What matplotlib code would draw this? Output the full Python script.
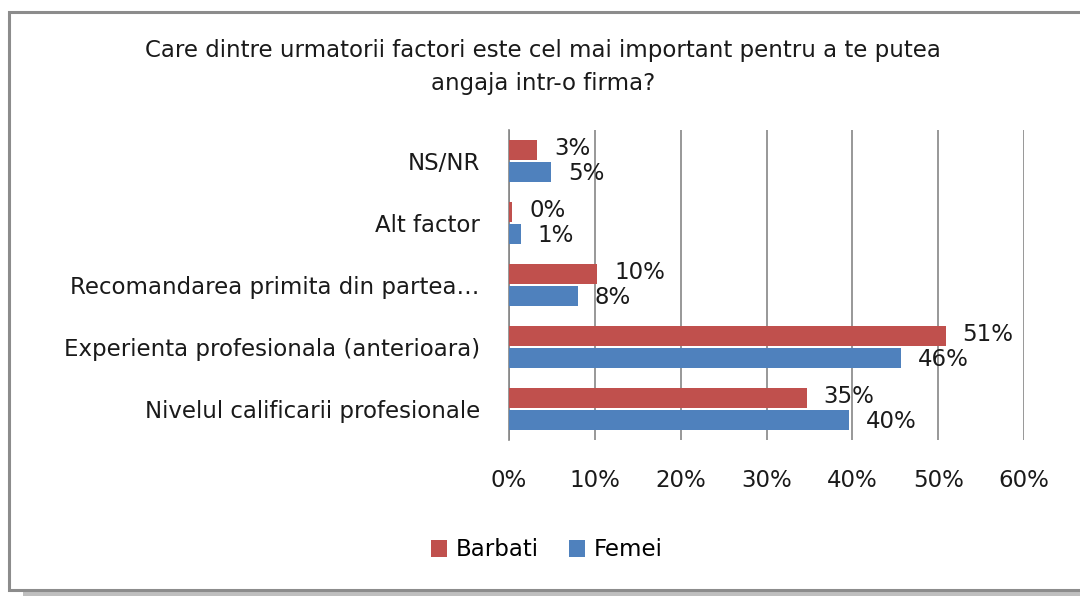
import matplotlib
matplotlib.use("Agg")
import matplotlib.pyplot as plt
from matplotlib.patches import Rectangle
import numpy as np

categories = ["Nivelul calificarii profesionale",
              "Experienta profesionala (anterioara)",
              "Recomandarea primita din partea\u2026",
              "Alt factor",
              "NS/NR"]
barbati = [34.7, 50.9, 10.3, 0.4, 3.3]
femei = [39.6, 45.7, 8.0, 1.4, 4.9]
barbati_labels = ["35%", "51%", "10%", "0%", "3%"]
femei_labels = ["40%", "46%", "8%", "1%", "5%"]
xticks = [0, 10, 20, 30, 40, 50, 60]

RED = "#C0504D"
BLUE = "#4F81BD"
GRID = "#868686"
FS = 16.5

plt.rcParams["font.family"] = ["DejaVu Sans"]

W, H = 1080, 596
fig = plt.figure(figsize=(W / 100, H / 100), dpi=100)

# chart frame + shadow
fig.add_artist(Rectangle((23 / W, 0), 1, 5 / H, transform=fig.transFigure,
                         facecolor="#BFBFBF", edgecolor="none", zorder=0))
fig.add_artist(Rectangle((9 / W, 1 - 590 / H), 1.05 - 9 / W, 578 / H,
                         transform=fig.transFigure, facecolor="white",
                         edgecolor="#8C8C8C", linewidth=2.2, zorder=1))

ax = fig.add_axes([509 / W, 1 - 440 / H, (1024 - 509) / W, 310 / H])
ax.set_zorder(2)
ax.patch.set_visible(False)

y = np.arange(len(categories))
h = 0.32
off = 0.175
ax.barh(y + off, barbati, height=h, color=RED, label="Barbati", zorder=3)
ax.barh(y - off, femei, height=h, color=BLUE, label="Femei", zorder=3)

for yi, v, t in zip(y, barbati, barbati_labels):
    ax.annotate(t, (v, yi + off), xytext=(12, 1), textcoords="offset points",
                ha="left", va="center", fontsize=FS, color="#1a1a1a")
for yi, v, t in zip(y, femei, femei_labels):
    ax.annotate(t, (v, yi - off), xytext=(12, -1), textcoords="offset points",
                ha="left", va="center", fontsize=FS, color="#1a1a1a")

ax.set_xlim(0, 60)
ax.set_ylim(-0.5, len(categories) - 0.5)
ax.set_xticks(xticks)
ax.set_xticklabels([f"{t}%" for t in xticks], fontsize=FS, color="#1a1a1a")
ax.set_yticks(y)
ax.set_yticklabels(categories, fontsize=FS, color="#1a1a1a")
ax.tick_params(axis="y", length=0, pad=21)
ax.tick_params(axis="x", length=0, pad=21)
ax.xaxis.grid(True, color=GRID, linewidth=1.2, zorder=0)
ax.set_axisbelow(True)
for s in ("top", "right", "bottom"):
    ax.spines[s].set_visible(False)
ax.spines["left"].set_color(GRID)
ax.spines["left"].set_linewidth(1.2)

fig.text(543 / W, 1 - 67 / H,
         "Care dintre urmatorii factori este cel mai important pentru a te putea\nangaja intr-o firma?",
         ha="center", va="center", fontsize=FS, color="#1a1a1a",
         linespacing=1.55, zorder=3)

fig.legend(loc="center", bbox_to_anchor=(547 / W, 1 - 550 / H), ncol=2,
           frameon=False, fontsize=FS, handlelength=0.7, handleheight=0.7,
           handletextpad=0.4, columnspacing=1.3)

fig.savefig("out.png", dpi=100)
